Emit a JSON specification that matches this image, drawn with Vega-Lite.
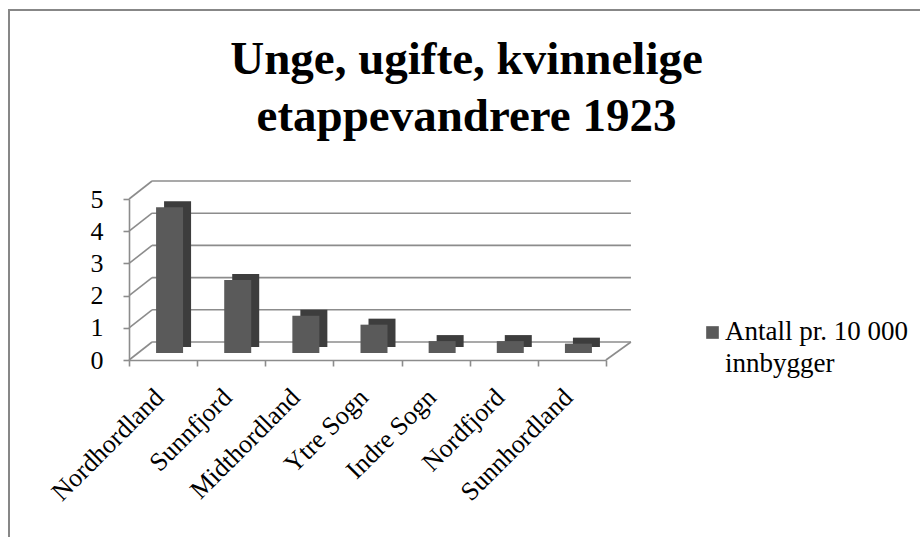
{
  "$schema": "https://vega.github.io/schema/vega-lite/v6.json",
  "width": 911,
  "height": 527,
  "autosize": {"type": "none"},
  "padding": {"left": 9, "top": 10, "right": 0, "bottom": 0},
  "background": "white",
  "config": {
    "view": {"stroke": "#878787", "strokeWidth": 2, "strokeDash": [912, 1437, 528, 10]},
    "font": "Liberation Serif"
  },
  "title": {
    "text": ["Unge, ugifte, kvinnelige", "etappevandrere 1923"],
    "font": "Liberation Serif",
    "fontSize": 47,
    "fontWeight": "bold",
    "color": "black",
    "lineHeight": 57,
    "anchor": "middle",
    "frame": "group",
    "baseline": "bottom",
    "offset": -178,
    "dx": 2
  },
  "datasets": {
    "bars": [
      {"region": "Nordhordland", "value": 4.53, "series": "Antall pr. 10 000 innbygger"},
      {"region": "Sunnfjord", "value": 2.27, "series": "Antall pr. 10 000 innbygger"},
      {"region": "Midthordland", "value": 1.16, "series": "Antall pr. 10 000 innbygger"},
      {"region": "Ytre Sogn", "value": 0.88, "series": "Antall pr. 10 000 innbygger"},
      {"region": "Indre Sogn", "value": 0.37, "series": "Antall pr. 10 000 innbygger"},
      {"region": "Nordfjord", "value": 0.37, "series": "Antall pr. 10 000 innbygger"},
      {"region": "Sunnhordland", "value": 0.29, "series": "Antall pr. 10 000 innbygger"}
    ],
    "grid": [
      {"level": 0}, {"level": 1}, {"level": 2}, {"level": 3}, {"level": 4}, {"level": 5}
    ]
  },
  "layer": [
    {
      "data": {"name": "grid"},
      "mark": {"type": "rule", "color": "#8c8c8c", "strokeWidth": 1.6, "xOffset": -11, "x2Offset": 59, "yOffset": -18},
      "encoding": {
        "x": {"datum": "Nordhordland", "type": "nominal"},
        "x2": {"datum": "Sunnhordland"},
        "y": {"field": "level", "type": "quantitative"}
      }
    },
    {
      "data": {"name": "grid"},
      "mark": {"type": "rule", "color": "#8c8c8c", "strokeWidth": 1.6, "xOffset": -34, "x2Offset": -11, "y2Offset": -18},
      "encoding": {
        "x": {"datum": "Nordhordland", "type": "nominal"},
        "x2": {"datum": "Nordhordland"},
        "y": {"field": "level", "type": "quantitative"},
        "y2": {"field": "level"}
      }
    },
    {
      "data": {"name": "grid"},
      "transform": [{"filter": "datum.level == 0"}],
      "mark": {"type": "rule", "color": "#8c8c8c", "strokeWidth": 1.6, "xOffset": 34, "x2Offset": 59, "y2Offset": -18},
      "encoding": {
        "x": {"datum": "Sunnhordland", "type": "nominal"},
        "x2": {"datum": "Sunnhordland"},
        "y": {"field": "level", "type": "quantitative"},
        "y2": {"field": "level"}
      }
    },
    {
      "data": {"name": "bars"},
      "mark": {"type": "bar", "color": "#3d3d3d", "size": 27, "xOffset": 14.5, "yOffset": -13, "y2Offset": -13},
      "encoding": {
        "x": {"field": "region", "type": "nominal"},
        "y": {"field": "value", "type": "quantitative"}
      }
    },
    {
      "data": {"name": "bars"},
      "mark": {"type": "bar", "size": 27, "xOffset": 6.5, "yOffset": -7, "y2Offset": -7},
      "encoding": {
        "x": {
          "field": "region",
          "type": "nominal",
          "sort": null,
          "scale": {
            "domain": ["Nordhordland", "Sunnfjord", "Midthordland", "Ytre Sogn", "Indre Sogn", "Nordfjord", "Sunnhordland"],
            "range": [120, 597],
            "paddingInner": 0,
            "paddingOuter": 0
          },
          "axis": {
            "title": null,
            "orient": "bottom",
            "offset": -177,
            "labelAngle": -45,
            "labelFont": "Liberation Serif",
            "labelFontSize": 26,
            "labelColor": "black",
            "labelPadding": 27,
            "labelOffset": -4,
            "labelLimit": 400,
            "domainColor": "#8c8c8c",
            "domainWidth": 1.6,
            "tickColor": "#8c8c8c",
            "tickWidth": 1.6,
            "tickSize": 6,
            "tickBand": "extent",
            "grid": false
          }
        },
        "y": {
          "field": "value",
          "type": "quantitative",
          "scale": {"domain": [0, 5], "range": [350, 189], "nice": false, "zero": true},
          "axis": {
            "title": null,
            "orient": "left",
            "offset": -120,
            "values": [0, 1, 2, 3, 4, 5],
            "format": "d",
            "labelFont": "Liberation Serif",
            "labelFontSize": 26,
            "labelColor": "black",
            "labelPadding": 20,
            "domainColor": "#8c8c8c",
            "domainWidth": 1.6,
            "tickColor": "#8c8c8c",
            "tickWidth": 1.6,
            "tickSize": 6,
            "grid": false
          }
        },
        "color": {
          "field": "series",
          "type": "nominal",
          "scale": {"range": ["#5a5a5a"]},
          "legend": {
            "orient": "none",
            "legendX": 690,
            "legendY": 309,
            "title": null,
            "padding": 0,
            "symbolType": "square",
            "symbolSize": 160,
            "symbolStrokeWidth": 0,
            "symbolFillColor": "#666666",
            "labelFont": "Liberation Serif",
            "labelFontSize": 27,
            "labelColor": "black",
            "labelOffset": -1,
            "labelLimit": 400,
            "labelBaseline": "alphabetic",
            "labelExpr": "['Antall pr. 10 000', 'innbygger']",
            "encode": {
              "labels": {
                "update": {
                  "dy": {"value": 7},
                  "lineHeight": {"value": 32}
                }
              }
            }
          }
        }
      }
    }
  ]
}
